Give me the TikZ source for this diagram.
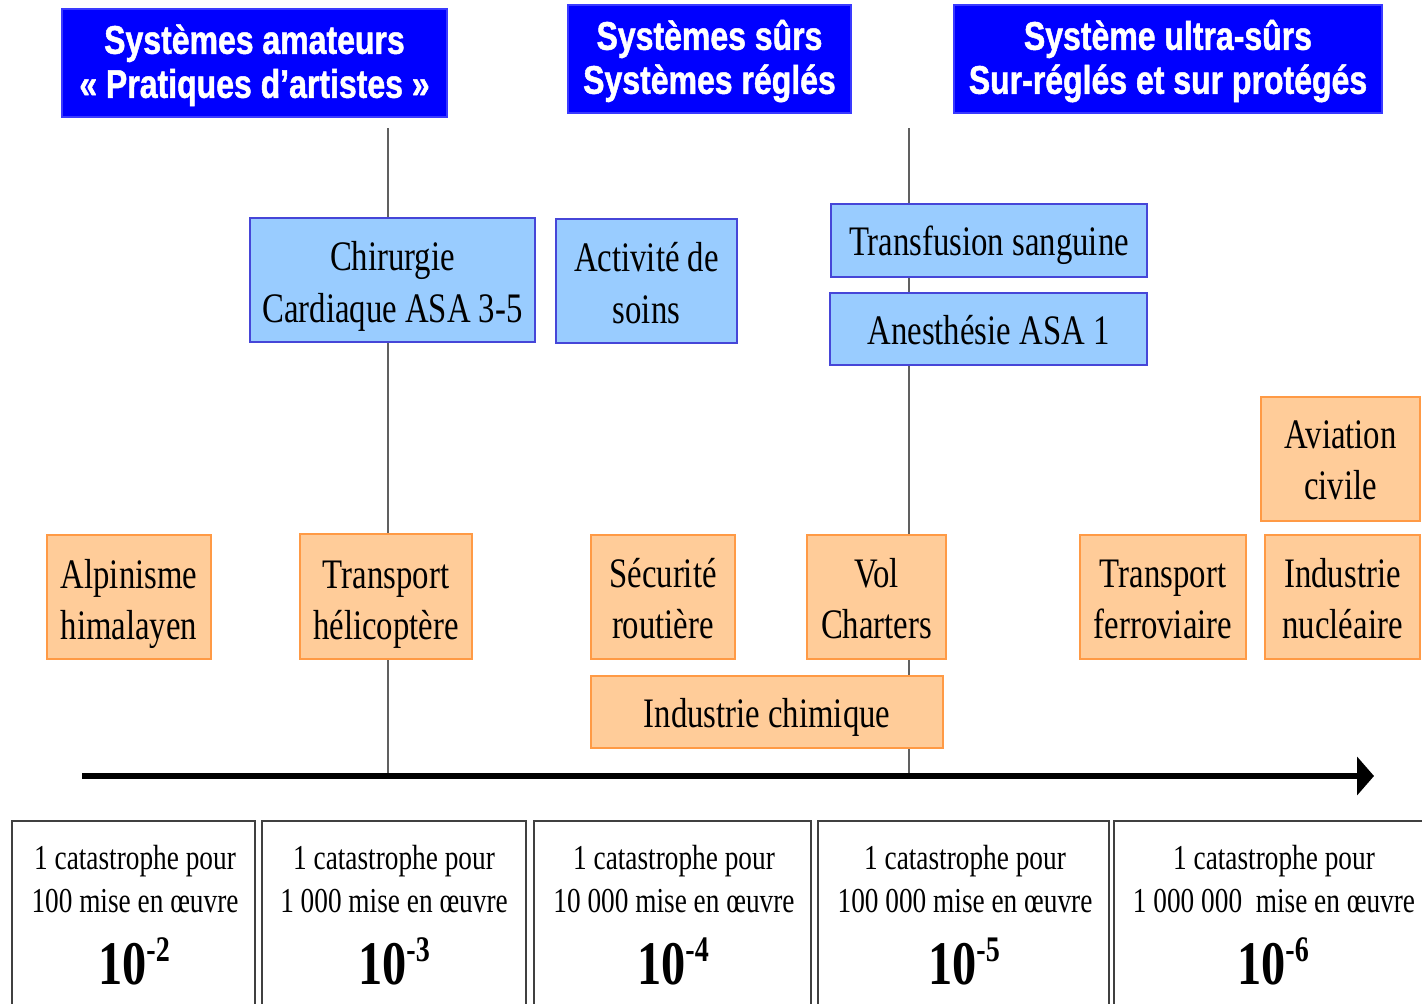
\documentclass[tikz,border=0pt]{standalone}
\usepackage{fontspec}
\usetikzlibrary{arrows.meta}
\setmainfont{Liberation Serif}[FakeStretch=0.78]
\newfontfamily\headfont{Liberation Sans}[FakeStretch=0.8, BoldFeatures={FakeBold=1.2}]
\definecolor{hdrblue}{HTML}{0000FF}
\definecolor{hdredge}{HTML}{3A3AFF}
\definecolor{medfill}{HTML}{99CCFF}
\definecolor{mededge}{HTML}{4646D8}
\definecolor{indfill}{HTML}{FFCC99}
\definecolor{indedge}{HTML}{FF9A45}
\definecolor{scaleedge}{HTML}{404040}
\definecolor{guide}{HTML}{606060}
% centred lines of text, lowered inside their box without changing its size
\newcommand\lowtext[2]{\raisebox{-#1}[\height][\depth]{\begin{tabular}{@{}c@{}}#2\end{tabular}}}
% power of ten with a large superscript
\newcommand\tenpow[1]{10\raisebox{23pt}{\fontsize{36}{36}\selectfont\bfseries -#1}}
\begin{document}
\begin{tikzpicture}[x=1pt,y=-1pt,
  hdr/.style={draw=hdredge, line width=1.5, fill=hdrblue, text=white, inner sep=0,
    font=\headfont\bfseries\fontsize{40}{44}\selectfont},
  medbox/.style={draw=mededge, line width=2, fill=medfill, inner sep=0,
    font=\fontsize{42}{52}\selectfont},
  indbox/.style={draw=indedge, line width=2, fill=indfill, inner sep=0,
    font=\fontsize{42}{51}\selectfont},
  scalebox/.style={draw=scaleedge, line width=2.5, inner sep=0},
  scaletext/.style={align=center, inner sep=0, font=\fontsize{35}{43}\selectfont},
  power/.style={inner sep=0, anchor=base, font=\bfseries\fontsize{62}{62}\selectfont},
  guideline/.style={draw=guide, line width=2},
  axis/.style={line width=6, -{Triangle[length=17pt,width=38pt]}}]

\useasboundingbox (0,0) rectangle (1422,1004);

% vertical guides between the classes of systems
\coordinate (g1top) at (388,128);
\coordinate (g1bot) at (388,773);
\coordinate (g2top) at (909,128);
\coordinate (g2bot) at (909,773);
\draw[guideline] (g1top) -- (g1bot);
\draw[guideline] (g2top) -- (g2bot);

% headers
\node[hdr, minimum width=385, minimum height=108] (amateur) at (254.5,63)
  {\lowtext{4pt}{Systèmes amateurs\\« Pratiques d’artistes »}};
\node[hdr, minimum width=283, minimum height=108] (surs) at (709.5,59)
  {\lowtext{4pt}{Systèmes sûrs\\Systèmes réglés}};
\node[hdr, minimum width=428, minimum height=108] (ultra) at (1168,59)
  {\lowtext{4pt}{Système ultra-sûrs\\Sur-réglés et sur protégés}};

% medical activities
\node[medbox, minimum width=285, minimum height=124] (chir) at (392.5,280)
  {\lowtext{6pt}{Chirurgie\\Cardiaque ASA 3-5}};
\node[medbox, minimum width=181, minimum height=124] (soins) at (646.5,281)
  {\lowtext{6pt}{Activité de\\soins}};
\node[medbox, minimum width=316, minimum height=73] (transf) at (989,240.5)
  {\lowtext{5pt}{Transfusion sanguine}};
\node[medbox, minimum width=317, minimum height=72] (anest) at (988.5,329)
  {\lowtext{5pt}{Anesthésie ASA 1}};

% other industries
\node[indbox, minimum width=164, minimum height=124] (alpi) at (129,597)
  {\lowtext{7pt}{Alpinisme\\himalayen}};
\node[indbox, minimum width=172, minimum height=125] (helico) at (386,596.5)
  {\lowtext{7pt}{Transport\\hélicoptère}};
\node[indbox, minimum width=144, minimum height=124] (route) at (663,597)
  {\lowtext{6pt}{Sécurité\\routière}};
\node[indbox, minimum width=139, minimum height=124] (charter) at (876.5,597)
  {\lowtext{6pt}{Vol\\Charters}};
\node[indbox, minimum width=352, minimum height=72] (chimie) at (767,712)
  {\lowtext{5pt}{Industrie chimique}};
\node[indbox, minimum width=166, minimum height=124] (rail) at (1163,597)
  {\lowtext{6pt}{Transport\\ferroviaire}};
\node[indbox, minimum width=159, minimum height=124] (avia) at (1340.5,459)
  {\lowtext{5pt}{Aviation\\civile}};
\node[indbox, minimum width=155, minimum height=124] (nucl) at (1342.5,597)
  {\lowtext{6pt}{Industrie\\nucléaire}};

% risk axis
\coordinate (axstart) at (82,776);
\coordinate (axend) at (1374,776);
\draw[axis] (axstart) -- (axend);

% risk scale
\node[scalebox, minimum width=243, minimum height=200] (s2) at (133.5,921) {};
\node[scalebox, minimum width=264, minimum height=200] (s3) at (394,921) {};
\node[scalebox, minimum width=277, minimum height=200] (s4) at (672.5,921) {};
\node[scalebox, minimum width=291, minimum height=200] (s5) at (963.5,921) {};
\node[scalebox, minimum width=320, minimum height=200] (s6) at (1274,921) {};

\node[scaletext] (t2) at (135,879) {1 catastrophe pour\\100 mise en œuvre};
\node[scaletext] (t3) at (394,879) {1 catastrophe pour\\1 000 mise en œuvre};
\node[scaletext] (t4) at (674,879) {1 catastrophe pour\\10 000 mise en œuvre};
\node[scaletext] (t5) at (965,879) {1 catastrophe pour\\100 000 mise en œuvre};
\node[scaletext] (t6) at (1274,879) {1 catastrophe pour\\1 000 000~ mise en œuvre};

\node[power] (p2) at (134,984) {\tenpow{2}};
\node[power] (p3) at (394,984) {\tenpow{3}};
\node[power] (p4) at (673,984) {\tenpow{4}};
\node[power] (p5) at (964,984) {\tenpow{5}};
\node[power] (p6) at (1273,984) {\tenpow{6}};
\end{tikzpicture}
\end{document}
